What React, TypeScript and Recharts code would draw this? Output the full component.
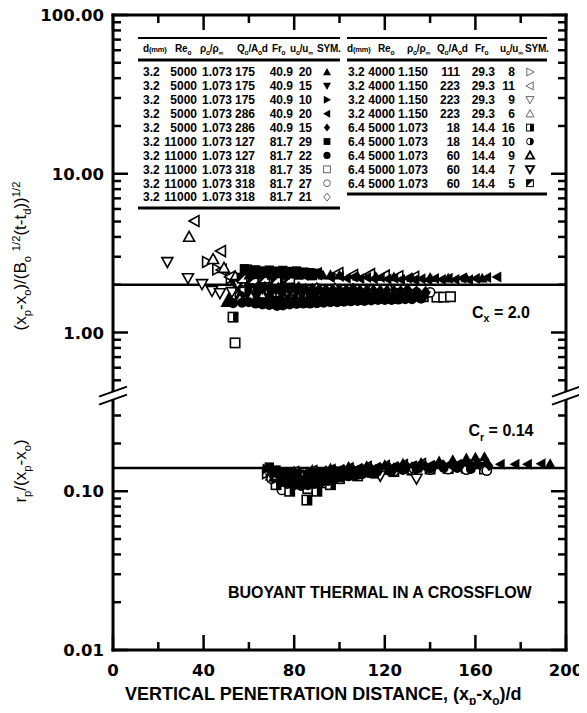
import React from 'react';
import { ScatterChart, Scatter, XAxis, YAxis, ReferenceLine, ReferenceDot } from 'recharts';

// run parameters (first ten rows = left block of the table, the rest = right block)
const D_MM = ['3.2', '3.2', '3.2', '3.2', '3.2', '3.2', '3.2', '3.2', '3.2', '3.2', '3.2', '3.2', '3.2', '3.2', '6.4', '6.4', '6.4', '6.4', '6.4'];
const RE_O = ['5000', '5000', '5000', '5000', '5000', '11000', '11000', '11000', '11000', '11000', '4000', '4000', '4000', '4000', '5000', '5000', '5000', '5000', '5000'];
const RHO_RATIO = ['1.073', '1.073', '1.073', '1.073', '1.073', '1.073', '1.073', '1.073', '1.073', '1.073', '1.150', '1.150', '1.150', '1.150', '1.073', '1.073', '1.073', '1.073', '1.073'];
const Q_RATIO = ['175', '175', '175', '286', '286', '127', '127', '318', '318', '318', '111', '223', '223', '223', '18', '18', '60', '60', '60'];
const FR_O = ['40.9', '40.9', '40.9', '40.9', '40.9', '81.7', '81.7', '81.7', '81.7', '81.7', '29.3', '29.3', '29.3', '29.3', '14.4', '14.4', '14.4', '14.4', '14.4'];
const U_RATIO = ['20', '15', '10', '20', '15', '29', '22', '35', '27', '21', '8', '11', '9', '6', '16', '10', '9', '7', '5'];
const SYMBOLS = [
  'triUp', 'triDown', 'triRight', 'triLeft', 'diamond', 'square', 'circle', 'squareOpen', 'circleOpen', 'diamondOpen',
  'triRightOpen', 'triLeftOpen', 'triDownOpen', 'triUpOpen', 'squareHalf', 'circleHalf', 'triUpBold', 'triDownBold', 'squareCorner',
];

// penetration: [(xp-xo)/d, (xp-xo)/(Bo^1/2 (t-td))^1/2]
const PEN_1 = [[60, 2.3], [63, 2.36], [66, 2.4], [69, 2.44], [72, 2.42], [75, 2.4], [78, 2.41], [81, 2.38], [84, 2.37], [87, 2.35], [90, 2.33], [92.7, 2.3], [96, 2.31], [100, 2.3], [108, 2.27], [116, 2.25], [124, 2.24], [132, 2.22], [140, 2.22], [148, 2.2], [156, 2.21], [163, 2.2]];
const PEN_2 = [[60, 1.92], [63, 1.88], [66, 1.86], [69, 1.83], [72, 1.82], [75, 1.8], [78, 1.78], [81, 1.77], [84, 1.76], [87, 1.76], [90, 1.75], [93, 1.74], [96, 1.73], [99, 1.73], [102, 1.72], [105, 1.72], [108, 1.71], [111, 1.71], [114, 1.7], [117, 1.7], [120, 1.7], [123, 1.69], [126, 1.69], [129, 1.68], [132, 1.68], [135, 1.69], [138, 1.7]];
const PEN_3 = [[63.6, 1.55], [66, 1.58], [69, 1.6], [72, 1.61], [75, 1.62], [78, 1.63], [81, 1.64], [84, 1.64], [87, 1.65], [90, 1.66], [93, 1.66], [96, 1.67], [99, 1.67], [102, 1.68], [105, 1.68], [108, 1.69], [111, 1.69], [114, 1.7], [117, 1.7]];
const PEN_4 = [[96, 2.22], [100, 2.25], [103, 2.2], [106, 2.24], [109, 2.19], [112, 2.22], [115, 2.18], [118, 2.22], [121, 2.17], [124, 2.2], [127, 2.16], [130, 2.2], [133, 2.15], [136, 2.18], [139, 2.15], [142, 2.19], [145, 2.16], [148, 2.2], [151, 2.16], [154, 2.2], [157, 2.15], [160, 2.19], [165, 2.22], [169.5, 2.24]];
const PEN_5 = [[64, 1.96], [67, 1.95], [70, 1.94], [73, 1.93], [76, 1.92], [79, 1.92], [82, 1.91], [85, 1.9], [88, 1.9], [91, 1.89], [94, 1.88], [97, 1.88], [100, 1.88], [103, 1.87], [106, 1.87], [109, 1.86], [112, 1.86], [115, 1.86], [118, 1.85], [121, 1.85], [124, 1.85], [127, 1.84], [130, 1.84], [134, 1.83], [138, 1.82]];
const PEN_6 = [[58, 2.52], [60, 2.45], [61, 2.38], [63, 2.48], [64, 2.32], [66, 2.44], [67, 2.36], [69, 2.47], [70, 2.3], [72, 2.43], [73, 2.35], [75, 2.46], [76, 2.3], [78, 2.42], [79, 2.34], [81, 2.44], [82, 2.3], [84, 2.4], [85, 2.32], [87, 2.38], [88, 2.28], [90, 2.36]];
const PEN_7 = [[51.7, 1.56], [53, 1.53], [57, 1.54], [60, 1.55], [63, 1.52], [66, 1.5], [69, 1.49], [72.4, 1.47], [75, 1.48], [78, 1.5], [81, 1.51], [84, 1.52], [87, 1.52], [90, 1.53], [93, 1.54], [96, 1.55], [99, 1.55], [102, 1.56], [105, 1.57], [108, 1.58], [111, 1.58], [114, 1.59], [117, 1.6], [120, 1.6], [123, 1.6], [126, 1.61], [129, 1.62], [132, 1.62], [136, 1.63]];
const PEN_8 = [[53.9, 0.86], [59, 2.48], [64, 2.3], [120, 1.72], [126, 1.7], [132, 1.69], [137, 1.68], [143, 1.67], [146, 1.67], [149, 1.68]];
const PEN_9 = [[56, 1.85], [62, 1.8], [70, 1.75], [78, 1.72], [86, 1.7], [94, 1.71], [102, 1.73], [110, 1.74], [118, 1.75], [126, 1.77], [134, 1.78], [140, 1.79]];
const PEN_10 = [[54, 2.05], [60, 2.0], [66, 1.96], [74, 1.93], [82, 1.91], [90, 1.89], [98, 1.88], [106, 1.87], [114, 1.86], [122, 1.86], [130, 1.85]];
const PEN_11 = [[41.5, 2.78], [46, 2.5], [52, 2.2], [57, 2.06], [62, 2.0], [68, 1.96]];
const PEN_12 = [[36, 5.04], [47.7, 3.26], [48, 2.48], [51.7, 2.24], [56, 2.15], [61, 2.25], [66, 2.3], [72, 2.3], [78, 2.32], [84, 2.33], [90, 2.35], [99.5, 2.37], [106, 2.3], [113.5, 2.33], [120, 2.28], [126, 2.26], [133, 2.24]];
const PEN_13 = [[24, 2.78], [33.1, 2.2], [39.3, 2.02], [43.7, 1.83], [47.2, 1.77], [52.5, 1.8], [57, 1.85], [62, 1.8], [68, 1.78]];
const PEN_14 = [[33.6, 4.0], [44.2, 2.9], [49, 2.55], [54, 2.25], [58, 2.1], [63, 2.05], [68, 2.0]];
const PEN_15 = [[53, 1.25], [58, 1.8], [63, 1.84], [68, 1.87], [74, 1.9]];
const PEN_16 = [[56, 1.7], [62, 1.72], [68, 1.75], [74, 1.78], [80, 1.8]];
const PEN_17 = [[51, 1.58], [56, 1.65], [61, 1.7], [66, 1.74], [72, 1.78]];
const PEN_18 = [[55, 2.0], [60, 2.12], [65, 2.15], [70, 2.1], [76, 2.12]];
const PEN_19 = [[57, 2.2], [62, 2.16], [67, 2.2], [72, 2.15], [78, 2.18]];

// spreading: [(xp-xo)/d, rp/(xp-xo)]
const RAD_1 = [[72, 0.13], [80, 0.134], [88, 0.137], [96, 0.14], [104, 0.143], [112, 0.145], [120, 0.147], [128, 0.15], [136, 0.152], [144, 0.155], [150, 0.158], [156, 0.162], [160, 0.164], [164, 0.165], [193, 0.149]];
const RAD_2 = [[70, 0.125], [73, 0.122], [76, 0.12], [79, 0.118], [82, 0.117], [85, 0.118], [88, 0.119], [91, 0.121], [94, 0.123], [97, 0.125], [100, 0.127], [103, 0.129], [106, 0.13], [109, 0.132], [112, 0.133], [115, 0.134], [118, 0.135], [124, 0.137], [130, 0.139], [136, 0.14], [142, 0.142], [150, 0.143]];
const RAD_3 = [[68, 0.138], [71, 0.132], [74, 0.128], [77, 0.125], [80, 0.122], [83, 0.121], [86, 0.12], [89, 0.121], [92, 0.122], [95, 0.124], [98, 0.126], [101, 0.128], [104, 0.13], [107, 0.132], [110, 0.133], [113, 0.134], [116, 0.135], [122, 0.137]];
const RAD_4 = [[100, 0.137], [104, 0.138], [108, 0.139], [112, 0.14], [116, 0.141], [120, 0.142], [124, 0.143], [128, 0.144], [132, 0.145], [136, 0.145], [140, 0.146], [144, 0.147], [148, 0.147], [152, 0.148], [156, 0.148], [160, 0.149], [164, 0.149], [171, 0.148], [177.5, 0.148], [183, 0.148], [189, 0.149]];
const RAD_5 = [[78, 0.13], [82, 0.131], [86, 0.132], [90, 0.134], [94, 0.135], [98, 0.136], [102, 0.137], [106, 0.138], [110, 0.139], [114, 0.14], [118, 0.141], [122, 0.142], [126, 0.142], [130, 0.143], [134, 0.144], [138, 0.145], [142, 0.145], [146, 0.146], [150, 0.146], [154, 0.147], [158, 0.147], [162, 0.146], [166, 0.145]];
const RAD_6 = [[69, 0.142], [72, 0.136], [75, 0.13], [78, 0.125], [81, 0.12], [84, 0.117], [87, 0.118], [90, 0.121], [93, 0.123], [96, 0.126], [99, 0.128], [102, 0.13], [105, 0.132], [108, 0.134]];
const RAD_7 = [[74, 0.114], [77, 0.111], [80, 0.109], [83, 0.108], [86, 0.109], [89, 0.111], [92, 0.114], [95, 0.116], [98, 0.119], [101, 0.122], [104, 0.124], [107, 0.126], [110, 0.128], [113, 0.13], [116, 0.131], [122, 0.134], [128, 0.136], [134, 0.138], [140, 0.139], [146, 0.14], [152, 0.14], [158, 0.138]];
const RAD_8 = [[86, 0.104], [92, 0.113], [100, 0.12], [108, 0.125], [116, 0.13], [124, 0.133], [132, 0.136], [140, 0.138], [148, 0.139], [156, 0.14], [164, 0.138]];
const RAD_9 = [[74.6, 0.102], [80, 0.112], [86, 0.118], [92, 0.122], [100, 0.125], [108, 0.128], [116, 0.132], [124, 0.134], [132, 0.136], [140, 0.137], [148, 0.138], [156, 0.137], [165, 0.135]];
const RAD_10 = [[76, 0.122], [82, 0.124], [88, 0.126], [94, 0.128], [100, 0.13], [108, 0.133], [116, 0.135], [124, 0.138], [132, 0.14]];
const RAD_11 = [[68, 0.13], [74, 0.126], [80, 0.124], [86, 0.125]];
const RAD_12 = [[80, 0.132], [88, 0.134], [96, 0.136], [104, 0.139], [112, 0.142], [120, 0.144], [128, 0.146], [136, 0.148]];
const RAD_13 = [[70, 0.12], [76, 0.121], [82, 0.124], [88, 0.128], [94, 0.131], [100, 0.133], [118, 0.125], [134, 0.12]];
const RAD_14 = [[70, 0.126], [76, 0.124], [82, 0.122], [88, 0.124]];
const RAD_15 = [[72, 0.11], [78, 0.1], [85.6, 0.088], [90, 0.1], [96, 0.11]];
const RAD_16 = [[70, 0.12], [76, 0.115], [82, 0.112], [88, 0.115], [94, 0.12]];
const RAD_17 = [[72, 0.125], [78, 0.122], [84, 0.12], [90, 0.122], [96, 0.125]];
const RAD_18 = [[74, 0.13], [80, 0.127], [86, 0.125], [92, 0.128]];
const RAD_19 = [[76, 0.128], [82, 0.125], [88, 0.127], [94, 0.13]];

const PEN = [PEN_1, PEN_2, PEN_3, PEN_4, PEN_5, PEN_6, PEN_7, PEN_8, PEN_9, PEN_10, PEN_11, PEN_12, PEN_13, PEN_14, PEN_15, PEN_16, PEN_17, PEN_18, PEN_19];
const RAD = [RAD_1, RAD_2, RAD_3, RAD_4, RAD_5, RAD_6, RAD_7, RAD_8, RAD_9, RAD_10, RAD_11, RAD_12, RAD_13, RAD_14, RAD_15, RAD_16, RAD_17, RAD_18, RAD_19];

// open symbols go underneath the filled ones
const DRAW_ORDER = [7, 8, 9, 10, 11, 12, 13, 14, 15, 16, 17, 18, 0, 1, 2, 3, 4, 5, 6];

const C_X = 2.0;
const C_R = 0.14;

const X_TICKS = [0, 20, 40, 60, 80, 100, 120, 140, 160, 180, 200];
const X_LABELED = [0, 40, 80, 120, 160, 200];
const Y_MAJOR = [0.01, 0.1, 1, 10, 100];
const Y_MINOR = [
  0.02, 0.03, 0.04, 0.05, 0.06, 0.07, 0.08, 0.09, 0.2, 0.3,
  0.5, 0.6, 0.7, 0.8, 0.9, 2, 3, 4, 5, 6, 7, 8, 9, 20, 30, 40, 50, 60, 70, 80, 90,
];
const Y_TICKS = [...Y_MAJOR, ...Y_MINOR];
const AXIS_BREAK = 0.4;

// the svg covers the whole window, so chart coordinates equal window pixels
const W = 587;
const H = 713;
const SANS = '"Liberation Sans", Arial, Helvetica, sans-serif';
const HEAVY = '"DejaVu Sans", sans-serif';
const AXIS_LINE = { stroke: '#000', strokeWidth: 3, strokeLinecap: 'square' as const };

type Seg = [string, number]; // 0 plain, 1 subscript, -1 superscript, 2 small

function rich(segs: Seg[], fs: number) {
  let shift = 0;
  return segs.map(([t, k], i) => {
    const target = k === 1 ? fs * 0.28 : k === -1 ? -fs * 0.38 : 0;
    const dy = target - shift;
    shift = target;
    const size = k === 1 || k === -1 ? fs * 0.66 : k === 2 ? fs * 0.75 : fs;
    return (
      <tspan key={i} dy={dy} fontSize={size}>
        {t}
      </tspan>
    );
  });
}

function Glyph({ kind, cx, cy, r = 5.5, sw = 1.6, line = '#000' }: any) {
  const k = '#000';
  const h = r * 0.8;
  const up = `${cx},${cy - r} ${cx + r},${cy + h} ${cx - r},${cy + h}`;
  const down = `${cx},${cy + r} ${cx + r},${cy - h} ${cx - r},${cy - h}`;
  const right = `${cx + r},${cy} ${cx - h},${cy - r} ${cx - h},${cy + r}`;
  const left = `${cx - r},${cy} ${cx + h},${cy - r} ${cx + h},${cy + r}`;
  const dia = `${cx},${cy - r} ${cx + r * 0.8},${cy} ${cx},${cy + r} ${cx - r * 0.8},${cy}`;
  const s = r * 0.85;
  switch (kind) {
    case 'triUp':
      return <polygon points={up} fill={k} />;
    case 'triDown':
      return <polygon points={down} fill={k} />;
    case 'triRight':
      return <polygon points={right} fill={k} />;
    case 'triLeft':
      return <polygon points={left} fill={k} />;
    case 'diamond':
      return <polygon points={dia} fill={k} />;
    case 'square':
      return <rect x={cx - s} y={cy - s} width={2 * s} height={2 * s} fill={k} />;
    case 'circle':
      return <circle cx={cx} cy={cy} r={r * 0.9} fill={k} />;
    case 'squareOpen':
      return <rect x={cx - s} y={cy - s} width={2 * s} height={2 * s} fill="#fff" stroke={line} strokeWidth={sw} />;
    case 'circleOpen':
      return <circle cx={cx} cy={cy} r={r * 0.85} fill="#fff" stroke={line} strokeWidth={sw} />;
    case 'diamondOpen':
      return <polygon points={dia} fill="#fff" stroke={line} strokeWidth={sw} />;
    case 'triRightOpen':
      return <polygon points={right} fill="#fff" stroke={line} strokeWidth={sw} />;
    case 'triLeftOpen':
      return <polygon points={left} fill="#fff" stroke={line} strokeWidth={sw} />;
    case 'triDownOpen':
      return <polygon points={down} fill="#fff" stroke={line} strokeWidth={sw} />;
    case 'triUpOpen':
      return <polygon points={up} fill="#fff" stroke={line} strokeWidth={sw} />;
    case 'squareHalf':
      return (
        <g>
          <rect x={cx - s} y={cy - s} width={2 * s} height={2 * s} fill="#fff" stroke={k} strokeWidth={sw} />
          <rect x={cx} y={cy - s} width={s} height={2 * s} fill={k} />
        </g>
      );
    case 'circleHalf':
      return (
        <g>
          <circle cx={cx} cy={cy} r={r * 0.85} fill="#fff" stroke={k} strokeWidth={sw} />
          <path d={`M${cx},${cy - r * 0.85} A${r * 0.85},${r * 0.85} 0 0 1 ${cx},${cy + r * 0.85} Z`} fill={k} />
        </g>
      );
    case 'triUpBold':
      return <polygon points={up} fill="#fff" stroke={k} strokeWidth={sw * 1.9} />;
    case 'triDownBold':
      return <polygon points={down} fill="#fff" stroke={k} strokeWidth={sw * 1.9} />;
    case 'squareCorner':
      return (
        <g>
          <rect x={cx - s} y={cy - s} width={2 * s} height={2 * s} fill="#fff" stroke={k} strokeWidth={sw} />
          <polygon points={`${cx - s},${cy - s} ${cx + s},${cy - s} ${cx - s},${cy + s}`} fill={k} />
        </g>
      );
    default:
      return null;
  }
}

const tickText = { fontFamily: HEAVY, fontWeight: 700, fontSize: 16.5, fill: '#000' };

function LeftTick({ x, y, payload }: any) {
  const v = payload.value;
  const major = Y_MAJOR.includes(v);
  return (
    <g>
      <line x1={x} x2={x + (major ? 15 : 8)} y1={y} y2={y} stroke="#000" strokeWidth={2.5} />
      {major && (
        <text x={x - 9} y={y} dy={6} textAnchor="end" style={tickText}>
          {v.toFixed(2)}
        </text>
      )}
    </g>
  );
}

function RightTick({ x, y, payload }: any) {
  const major = Y_MAJOR.includes(payload.value);
  return <line x1={x} x2={x - (major ? 15 : 8)} y1={y} y2={y} stroke="#000" strokeWidth={2.5} />;
}

function BottomTick({ x, y, payload }: any) {
  const v = payload.value;
  const major = X_LABELED.includes(v);
  return (
    <g>
      <line x1={x} x2={x} y1={y} y2={y - (major ? 15 : 8)} stroke="#000" strokeWidth={2.5} />
      {major && (
        <text x={x} y={y + 26} textAnchor="middle" style={tickText}>
          {v}
        </text>
      )}
    </g>
  );
}

function TopTick({ x, y, payload }: any) {
  const major = X_LABELED.includes(payload.value);
  return <line x1={x} x2={x} y1={y} y2={y + (major ? 15 : 8)} stroke="#000" strokeWidth={2.5} />;
}

function BreakMark({ cx, cy }: any) {
  return (
    <g>
      <polygon points={`${cx - 14},${cy + 1} ${cx + 14},${cy - 9} ${cx + 14},${cy - 1} ${cx - 14},${cy + 9}`} fill="#fff" />
      <line x1={cx - 14} y1={cy + 1} x2={cx + 14} y2={cy - 9} stroke="#000" strokeWidth={2} />
      <line x1={cx - 14} y1={cy + 9} x2={cx + 14} y2={cy - 1} stroke="#000" strokeWidth={2} />
    </g>
  );
}

const yTitles = () => (
  <g style={{ fontFamily: SANS, fontSize: 17, fill: '#000' }}>
    <text x={26} y={256} transform="rotate(-90 26 256)" textAnchor="middle">
      {rich([['(x', 0], ['p', 1], ['-x', 0], ['o', 1], [')/(B', 0], ['o', 1], [' ', 0], ['1/2', -1], ['(t-t', 0], ['d', 1], ['))', 0], ['1/2', -1]], 17)}
    </text>
    <text x={26} y={471} transform="rotate(-90 26 471)" textAnchor="middle">
      {rich([['r', 0], ['p', 1], ['/(x', 0], ['p', 1], ['-x', 0], ['o', 1], [')', 0]], 17)}
    </text>
  </g>
);

const xTitles = () => (
  <g style={{ fontFamily: SANS, fontWeight: 700, fill: '#000' }}>
    <text x={125} y={700} fontSize={18}>
      {rich([['VERTICAL PENETRATION DISTANCE, (x', 0], ['p', 1], ['-x', 0], ['o', 1], [')/d', 0]], 18)}
    </text>
    <text x={228} y={598} fontSize={16}>
      BUOYANT THERMAL IN A CROSSFLOW
    </text>
  </g>
);

const coefLabel = (name: string, value: string, dy: number) => (props: any) => {
  const { viewBox } = props;
  const x = viewBox.x + viewBox.width - 65;
  const y = viewBox.y + dy;
  return (
    <text x={x} y={y} textAnchor="middle" style={{ fontFamily: SANS, fontWeight: 700, fontSize: 16, fill: '#000' }}>
      {rich([['C', 0], [name, 1], [` = ${value}`, 0]], 16)}
    </text>
  );
};

// table columns
const BLOCKS = [
  { rows: [0, 10], x1: 138, x2: 340, bottom: 208, head: [143, 175, 200, 237, 272, 290, 317], d: 143, re: 197, rho: 232, q: 255, fr: 293, u: 312, sym: 327 },
  { rows: [10, 19], x1: 347, x2: 547, bottom: 194, head: [347, 378, 407, 437, 475, 500, 525], d: 348, re: 395, rho: 428, q: 460, fr: 495, u: 515, sym: 530 },
];

const HEADERS: Seg[][] = [
  [['d', 0], ['(mm)', 2]],
  [['Re', 0], ['o', 1]],
  [['\u03c1', 0], ['o', 1], ['/\u03c1', 0], ['\u221e', 1]],
  [['Q', 0], ['o', 1], ['/A', 0], ['o', 1], ['d', 0]],
  [['Fr', 0], ['o', 1]],
  [['u', 0], ['o', 1], ['/u', 0], ['\u221e', 1]],
  [['SYM.', 0]],
];

function RunTable() {
  const rowY = (i: number) => 72 + 13.9 * i;
  return (
    <svg width={W} height={230} style={{ position: 'absolute', left: 0, top: 0, pointerEvents: 'none' }}>
      {BLOCKS.map((b, bi) => {
        const idx: number[] = [];
        for (let i = b.rows[0]; i < b.rows[1]; i++) idx.push(i);
        return (
          <g key={bi} style={{ fontFamily: SANS, fontWeight: 700, fill: '#000' }}>
            <line x1={b.x1} x2={b.x2} y1={38} y2={38} stroke="#000" strokeWidth={2} />
            <line x1={b.x1} x2={b.x2} y1={60} y2={60} stroke="#000" strokeWidth={3} />
            <line x1={b.x1} x2={b.x2} y1={b.bottom} y2={b.bottom} stroke="#000" strokeWidth={3} />
            {HEADERS.map((h, hi) => (
              <text key={hi} x={b.head[hi]} y={52} fontSize={10} letterSpacing={-0.2}>
                {rich(h, 10)}
              </text>
            ))}
            {idx.map((i, j) => {
              const y = rowY(j);
              return (
                <g key={i} fontSize={12}>
                  <text x={b.d} y={y + 4.3}>{D_MM[i]}</text>
                  <text x={b.re} y={y + 4.3} textAnchor="end">{RE_O[i]}</text>
                  <text x={b.rho} y={y + 4.3} textAnchor="end">{RHO_RATIO[i]}</text>
                  <text x={b.q} y={y + 4.3} textAnchor="end">{Q_RATIO[i]}</text>
                  <text x={b.fr} y={y + 4.3} textAnchor="end">{FR_O[i]}</text>
                  <text x={b.u} y={y + 4.3} textAnchor="end">{U_RATIO[i]}</text>
                  <Glyph kind={SYMBOLS[i]} cx={b.sym} cy={y} r={4} sw={1} line="#666" />
                </g>
              );
            })}
          </g>
        );
      })}
    </svg>
  );
}

const FRAME_ANCHOR = [{ x: 0, y: 0.01 }, { x: 200, y: 100 }];

export default function App() {
  return (
    <div style={{ position: 'relative', margin: '-8px 0 0 -8px', width: W, height: H - 8 }}>
      <ScatterChart width={W} height={H} margin={{ top: 0, right: 0, bottom: 0, left: 0 }}>
        <XAxis
          xAxisId="b"
          dataKey="x"
          type="number"
          domain={[0, 200]}
          allowDataOverflow
          ticks={X_TICKS}
          interval={0}
          tickSize={0}
          tickMargin={0}
          tickLine={false}
          axisLine={AXIS_LINE}
          tick={BottomTick}
          height={63}
          label={xTitles}
        />
        <XAxis
          xAxisId="t"
          orientation="top"
          dataKey="x"
          type="number"
          domain={[0, 200]}
          allowDataOverflow
          ticks={X_TICKS}
          interval={0}
          tickSize={0}
          tickMargin={0}
          tickLine={false}
          axisLine={AXIS_LINE}
          tick={TopTick}
          height={15}
        />
        <YAxis
          yAxisId="l"
          dataKey="y"
          type="number"
          scale="log"
          domain={[0.01, 100]}
          allowDataOverflow
          ticks={Y_TICKS}
          interval={0}
          tickSize={0}
          tickMargin={0}
          tickLine={false}
          axisLine={AXIS_LINE}
          tick={LeftTick}
          width={113}
          label={yTitles}
        />
        <YAxis
          yAxisId="r"
          orientation="right"
          dataKey="y"
          type="number"
          scale="log"
          domain={[0.01, 100]}
          allowDataOverflow
          ticks={Y_TICKS}
          interval={0}
          tickSize={0}
          tickMargin={0}
          tickLine={false}
          axisLine={AXIS_LINE}
          tick={RightTick}
          width={21}
        />
        <ReferenceLine xAxisId="b" yAxisId="l" y={C_X} stroke="#000" strokeWidth={2.5} label={coefLabel('x', '2.0', 33)} />
        <ReferenceLine xAxisId="b" yAxisId="l" y={C_R} stroke="#000" strokeWidth={2.5} label={coefLabel('r', '0.14', -32)} />
        {DRAW_ORDER.map((i) => (
          <Scatter
            key={SYMBOLS[i]}
            xAxisId="b"
            yAxisId="l"
            data={[...PEN[i], ...RAD[i]].map(([x, y]) => ({ x, y }))}
            isAnimationActive={false}
            shape={(p: any) => <Glyph kind={SYMBOLS[i]} cx={p.cx} cy={p.cy} />}
          />
        ))}
        <Scatter xAxisId="t" yAxisId="r" data={FRAME_ANCHOR} isAnimationActive={false} shape={() => <g />} />
        <ReferenceDot xAxisId="b" yAxisId="l" x={0} y={AXIS_BREAK} ifOverflow="visible" shape={(p: any) => <BreakMark cx={p.cx} cy={p.cy} />} />
        <ReferenceDot xAxisId="b" yAxisId="l" x={200} y={AXIS_BREAK} ifOverflow="visible" shape={(p: any) => <BreakMark cx={p.cx} cy={p.cy} />} />
      </ScatterChart>
      <RunTable />
    </div>
  );
}
